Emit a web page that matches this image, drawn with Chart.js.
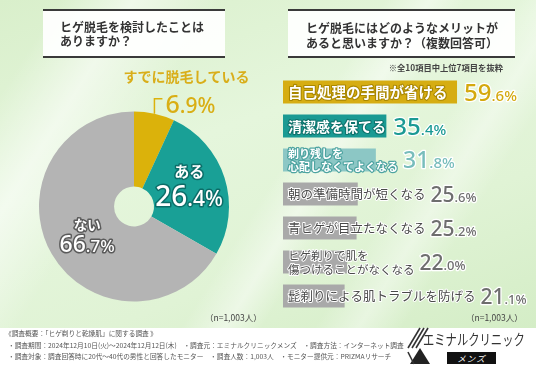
<!DOCTYPE html>
<html><head><meta charset="utf-8">
<script src="https://cdn.jsdelivr.net/npm/chart.js@4/dist/chart.umd.min.js"></script>
<style>
html,body{margin:0;padding:0;}
body{width:536px;height:371px;overflow:hidden;position:relative;background:#fff;font-family:"Noto Sans CJK JP","Noto Sans",sans-serif;}
#bg{position:absolute;left:0;top:0;width:536px;height:328px;
 background:
  linear-gradient(122deg, rgba(255,255,255,0) 8%, rgba(255,255,255,.55) 18%, rgba(255,255,255,0) 30%, rgba(255,255,255,0) 52%, rgba(255,255,255,.45) 58%, rgba(255,255,255,0) 63%, rgba(255,255,255,0) 70%, rgba(255,255,255,.4) 76%, rgba(255,255,255,0) 82%),
  linear-gradient(160deg, #d9efcb 0%, #e5f6dc 40%, #e0f3d5 70%, #d4edc6 100%);}
canvas{position:absolute;top:0;}
#pie{left:0;}
#bar{left:268px;}
.tbox{position:absolute;box-sizing:border-box;border-top:2.5px solid #3a3a3a;border-bottom:2.5px solid #3a3a3a;background:rgba(255,255,255,.93);display:flex;flex-direction:column;justify-content:center;color:#333;font-weight:bold;font-size:12px;line-height:14px;}
#t1{left:43px;top:9px;width:182px;height:49px;padding-left:17px;}
#t2{left:288px;top:9px;width:227px;height:49px;padding-left:18px;padding-top:2px;line-height:15px;}
#note{position:absolute;right:33px;top:62px;font-size:8.3px;font-weight:bold;color:#444;line-height:10px;white-space:nowrap;}
.n{position:absolute;font-size:8.5px;color:#444;top:311px;line-height:12px;white-space:nowrap;}
#n1{left:205px;}#n2{left:466px;}
#foot{position:absolute;left:5px;top:328px;font-size:6.7px;line-height:11.5px;color:#555;white-space:nowrap;}
#foot div:not(:first-child){padding-left:3px;}
#logo{position:absolute;left:406px;top:325px;width:130px;height:42px;}
#logoTxt{position:absolute;left:17px;top:5px;font-size:14.5px;font-weight:normal;color:#333;line-height:17px;white-space:nowrap;transform:scaleX(0.78);transform-origin:0 50%;}
#mens{position:absolute;left:41px;top:27px;width:49px;height:12px;background:#111;color:#fff;font-size:8.5px;line-height:12px;text-align:center;font-style:italic;letter-spacing:1px;}
</style></head>
<body>
<div id="bg"></div>
<canvas id="pie" width="268" height="330"></canvas>
<canvas id="bar" width="268" height="330"></canvas>
<div class="tbox" id="t1"><div>ヒゲ脱毛を検討したことは</div><div>ありますか？</div></div>
<div class="tbox" id="t2"><div>ヒゲ脱毛にはどのようなメリットが</div><div>あると思いますか？（複数回答可）</div></div>
<div id="note">※全10項目中上位7項目を抜粋</div>
<div class="n" id="n1">（n=1,003人）</div>
<div class="n" id="n2">（n=1,003人）</div>
<div id="foot">
<div>《調査概要：「ヒゲ剃りと乾燥肌」に関する調査 》</div>
<div>・調査期間：2024年12月10日(火)～2024年12月12日(木)　・調査元：エミナルクリニックメンズ　・調査方法：インターネット調査</div>
<div>・調査対象：調査回答時に20代～40代の男性と回答したモニター　・調査人数：1,003人　・モニター提供元：PRIZMAリサーチ</div>
</div>
<div id="logo">
<svg width="24" height="40" style="position:absolute;left:0;top:1px" viewBox="0 0 24 40">
 <g stroke="#333" stroke-width="1.6">
  <line x1="2" y1="22" x2="14" y2="2"/><line x1="6" y1="22" x2="18" y2="2"/><line x1="10" y1="22" x2="22" y2="2"/>
 </g>
 <polygon points="4,38 14,22 24,38" fill="#222"/>
 <line x1="2" y1="26" x2="8" y2="38" stroke="#333" stroke-width="1.6"/>
</svg>
<div id="logoTxt">エミナルクリニック</div>
<div id="mens">メンズ</div>
</div>
<script>
// ---- data ----
const pieLabels = ['すでに脱毛している', 'ある', 'ない'];
const pieValues = [6.9, 26.4, 66.7];

const barCategories = [
  ['自己処理の手間が省ける'],
  ['清潔感を保てる'],
  ['剃り残しを', '心配しなくてよくなる'],
  ['朝の準備時間が短くなる'],
  ['青ヒゲが目立たなくなる'],
  ['ヒゲ剃りで肌を', '傷つけることがなくなる'],
  ['髭剃りによる肌トラブルを防げる']
];
const barValues = [59.6, 35.4, 31.8, 25.6, 25.2, 22.0, 21.1];

// ---- styles ----
const pieColors = ['#DBB20B', '#19A096', '#B4B4B4'];
const barColors = ['#D6AD12', '#1A9A93', '#8CC7C5', '#A9A9A9', '#A9A9A9', '#A9A9A9', '#A9A9A9'];
const barLabelStyle = [
  {size:14.5, weight:'bold', fill:'#ffffff', stroke:'#a98700', lw:2.2},
  {size:14, weight:'bold', fill:'#ffffff', stroke:'#0f726c', lw:2.2},
  {size:11, weight:'bold', fill:'#ffffff', stroke:'#4ea4a1', lw:2.4},
  {size:12.5, weight:'normal', fill:'#4a4a4a', stroke:'#ffffff', lw:2},
  {size:12.5, weight:'normal', fill:'#4a4a4a', stroke:'#ffffff', lw:2},
  {size:11.5, weight:'normal', fill:'#4a4a4a', stroke:'#ffffff', lw:2},
  {size:12.5, weight:'normal', fill:'#4a4a4a', stroke:'#ffffff', lw:2}
];
const valueStyle = [
  {big:24, small:15, color:'#D4A90F'},
  {big:24, small:15, color:'#1B9A94'},
  {big:23, small:15, color:'#78BDBC'},
  {big:21, small:13, color:'#6E6E6E'},
  {big:21, small:13, color:'#6E6E6E'},
  {big:21, small:13, color:'#6E6E6E'},
  {big:21, small:13, color:'#6E6E6E'}
];

function drawValue(ctx, str, x, cy, big, small, color, stroke, lw){
  const m = str.match(/^(\d+)(.*)$/);
  const base = cy + big * 0.36;
  ctx.textAlign = 'left'; ctx.textBaseline = 'alphabetic';
  ctx.lineJoin = 'round';
  ctx.strokeStyle = stroke; ctx.lineWidth = lw; ctx.fillStyle = color;
  ctx.font = `500 ${big}px "Noto Sans"`;
  if (lw > 0) ctx.strokeText(m[1], x, base);
  ctx.fillText(m[1], x, base);
  const w = ctx.measureText(m[1]).width;
  ctx.font = `500 ${small}px "Noto Sans"`;
  if (lw > 0) ctx.strokeText(m[2], x + w, base);
  ctx.fillText(m[2], x + w, base);
  return w + ctx.measureText(m[2]).width;
}
function outlined(ctx, txt, x, y, fill, stroke, lw){
  ctx.lineJoin = 'round';
  if (lw > 0){ ctx.strokeStyle = stroke; ctx.lineWidth = lw; ctx.strokeText(txt, x, y); }
  ctx.fillStyle = fill; ctx.fillText(txt, x, y);
}

const pieText = {
  id:'pieText',
  afterDatasetsDraw(chart){
    const ctx = chart.ctx;
    const arcs = chart.getDatasetMeta(0).data;
    ctx.save();
    const a0 = arcs[0];
    const mid0 = (a0.startAngle + a0.endAngle) / 2;
    const px = a0.x + Math.cos(mid0) * a0.outerRadius;
    const py = a0.y + Math.sin(mid0) * a0.outerRadius;
    const topY = py - 15;
    ctx.strokeStyle = pieColors[0]; ctx.lineWidth = 1.5;
    ctx.beginPath(); ctx.moveTo(px, py); ctx.lineTo(px, topY); ctx.lineTo(px + 8, topY); ctx.stroke();
    drawValue(ctx, pieValues[0].toFixed(1) + '%', px + 11, topY + 5, 25, 21, '#D9AE14', '#ffffff', 0);
    ctx.font = 'bold 14px "Noto Sans CJK JP"'; ctx.textAlign = 'center'; ctx.textBaseline = 'middle';
    outlined(ctx, pieLabels[0], px + 32, topY - 22, '#D9AE1A', '#fff', 0);
    const cfg = [null, {f:0.62, dx:-1, dy1:-17, dy2:7, ts:15, big:28, small:21, stroke:'#0c6d68'},
                       {f:0.57, dx:0, dy1:-9, dy2:10, ts:13.5, big:23, small:17, stroke:'#5a5a5a'}];
    for (let i = 1; i < arcs.length; i++){
      const a = arcs[i], c = cfg[i];
      const mid = (a.startAngle + a.endAngle) / 2;
      const ax = a.x + Math.cos(mid) * a.outerRadius * c.f + c.dx;
      const ay = a.y + Math.sin(mid) * a.outerRadius * c.f;
      ctx.font = `bold ${c.ts}px "Noto Sans CJK JP"`; ctx.textAlign = 'center'; ctx.textBaseline = 'middle';
      outlined(ctx, pieLabels[i], ax, ay + c.dy1, '#ffffff', c.stroke, 3);
      const s = pieValues[i].toFixed(1) + '%';
      ctx.font = `500 ${c.big}px "Noto Sans"`;
      const m = s.match(/^(\d+)(.*)$/);
      let w = ctx.measureText(m[1]).width;
      ctx.font = `500 ${c.small}px "Noto Sans"`;
      w += ctx.measureText(m[2]).width;
      drawValue(ctx, s, ax - w / 2, ay + c.dy2, c.big, c.small, '#ffffff', c.stroke, 3);
    }
    ctx.restore();
  }
};

const barText = {
  id:'barText',
  afterDatasetsDraw(chart){
    const ctx = chart.ctx;
    const bars = chart.getDatasetMeta(0).data;
    ctx.save();
    bars.forEach((b, i) => {
      const st = barLabelStyle[i];
      const lines = barCategories[i];
      const x0 = Math.min(b.base, b.x) + 5;
      ctx.font = `${st.weight} ${st.size}px "Noto Sans CJK JP"`;
      ctx.textAlign = 'left'; ctx.textBaseline = 'middle';
      let maxW = 0;
      const lh = st.size + 2;
      lines.forEach((ln, k) => {
        const y = b.y + (k - (lines.length - 1) / 2) * lh;
        outlined(ctx, ln, x0, y + 0.5, st.fill, st.stroke, st.lw);
        maxW = Math.max(maxW, ctx.measureText(ln).width);
      });
      const vx = Math.max(Math.max(b.base, b.x) + 7, x0 + maxW + 5);
      const vs = valueStyle[i];
      drawValue(ctx, barValues[i].toFixed(1) + '%', vx, b.y, vs.big, vs.small, vs.color, '#ffffff', 2.5);
    });
    ctx.restore();
  }
};

new Chart(document.getElementById('pie'), {
  type:'doughnut',
  data:{labels:pieLabels, datasets:[{data:pieValues, backgroundColor:pieColors, borderWidth:0, hoverOffset:0}]},
  options:{responsive:false, animation:false, devicePixelRatio:1, cutout:'21%',
    layout:{padding:{left:39, right:39, top:111.5, bottom:28.5}},
    plugins:{legend:{display:false}, tooltip:{enabled:false}}},
  plugins:[pieText]
});

new Chart(document.getElementById('bar'), {
  type:'bar',
  data:{labels:barCategories, datasets:[{data:barValues, backgroundColor:barColors, borderWidth:0, barPercentage:0.68, categoryPercentage:1}]},
  options:{indexAxis:'y', responsive:false, animation:false, devicePixelRatio:1,
    layout:{padding:{left:15, right:19.4, top:75, bottom:17}},
    scales:{x:{display:false, min:0, max:80}, y:{display:false}},
    plugins:{legend:{display:false}, tooltip:{enabled:false}}},
  plugins:[barText]
});
</script>
</body></html>
